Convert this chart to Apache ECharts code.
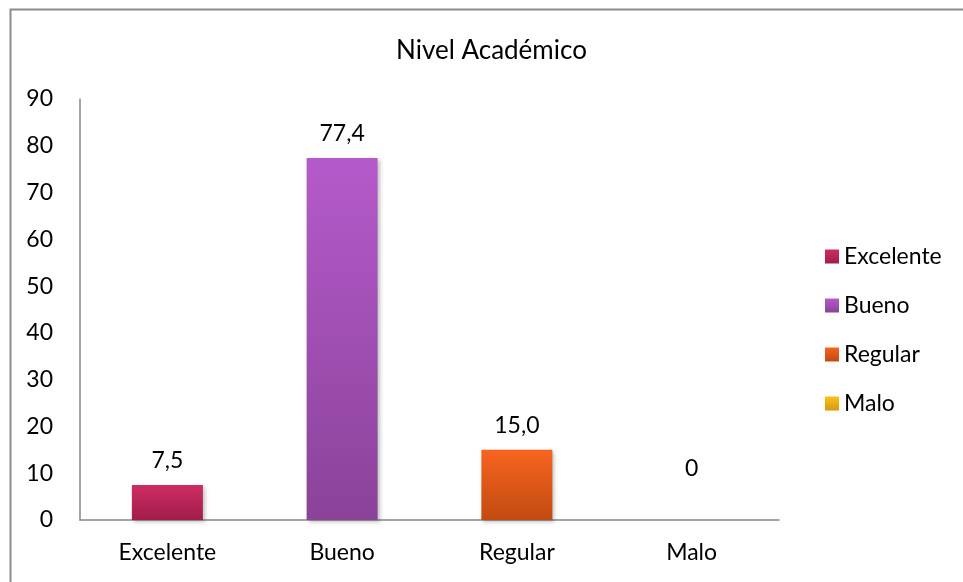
<!DOCTYPE html>
<html>
<head>
<meta charset="utf-8">
<script src="https://cdn.jsdelivr.net/npm/echarts@6/dist/echarts.min.js"></script>
<style>
  html, body { margin: 0; padding: 0; background: #fff; }
  #chart { width: 963px; height: 582px; }
</style>
</head>
<body>
<div id="chart"></div>
<script>
const categories = ["Excelente", "Bueno", "Regular", "Malo"];
const values = [7.5, 77.4, 15.0, 0];
const yTicks = [0, 10, 20, 30, 40, 50, 60, 70, 80, 90];

const colorTop = ["#cf2c63", "#b55acb", "#f7641f", "#fcc11d"];
const colorBottom = ["#a11d4c", "#8a4399", "#c24a10", "#d49a0a"];

const FONT = "Lato";
const FS = 23;

const chart = echarts.init(document.getElementById("chart"));

const series = categories.map((name, i) => ({
  name: name,
  type: "bar",
  stack: "total",
  barWidth: 71,
  data: categories.map((_, j) => (j === i ? values[i] : null)),
  itemStyle: {
    color: new echarts.graphic.LinearGradient(0, 0, 0, 1, [
      { offset: 0, color: colorTop[i] },
      { offset: 1, color: colorBottom[i] },
    ]),
    shadowBlur: 4,
    shadowOffsetX: 2,
    shadowOffsetY: 2,
    shadowColor: "rgba(0,0,0,0.25)",
  },
  label: {
    show: true,
    position: "top",
    distance: values[i] === 0 ? 40 : 13,
    color: "#000",
    fontFamily: FONT,
    fontSize: FS,
    formatter: (p) => (p.value === 0 ? "0" : p.value.toFixed(1).replace(".", ",")),
  },
}));

chart.setOption({
  animation: false,
  textStyle: { fontFamily: FONT },
  title: {
    text: "Nivel Académico",
    left: 391,
    top: 33,
    textStyle: { fontFamily: FONT, fontSize: 26, fontWeight: "normal", color: "#000" },
  },
  legend: {
    orient: "vertical",
    left: 820,
    top: 240,
    itemWidth: 14,
    itemHeight: 14,
    itemGap: 26,
    icon: "rect",
    textStyle: { fontFamily: FONT, fontSize: FS, color: "#000" },
    data: categories,
  },
  grid: { left: 80, right: 184, top: 99, bottom: 62 },
  xAxis: {
    type: "category",
    data: categories,
    axisLine: { lineStyle: { color: "#868686", width: 1.5 } },
    axisTick: { show: false },
    axisLabel: { color: "#000", fontFamily: FONT, fontSize: FS, margin: 21 },
  },
  yAxis: {
    type: "value",
    min: yTicks[0],
    max: yTicks[yTicks.length - 1],
    interval: 10,
    axisLine: { show: true, lineStyle: { color: "#868686", width: 1.5 } },
    axisTick: { show: false },
    splitLine: { show: false },
    axisLabel: { color: "#000", fontFamily: FONT, fontSize: FS, margin: 27 },
  },
  graphic: [
    {
      type: "polyline",
      shape: { points: [[10.5, 582], [10.5, 9.5], [963, 9.5]] },
      style: { stroke: "#8c8c8c", lineWidth: 2, fill: null },
    },
  ],
  series: series,
});
</script>
</body>
</html>
